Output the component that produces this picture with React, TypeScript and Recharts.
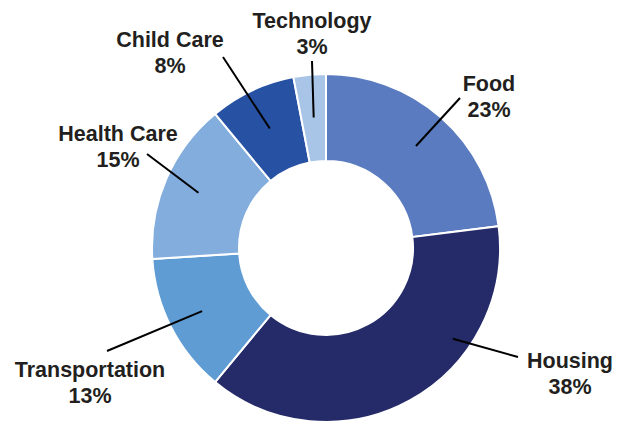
import { PieChart, Pie, Cell } from 'recharts'

const categories = ['Food', 'Housing', 'Transportation', 'Health Care', 'Child Care', 'Technology']
const shares = [23, 38, 13, 15, 8, 3]
const colors = ['#5A7BBF', '#252B69', '#5F9CD4', '#82ADDD', '#2752A4', '#A8C4E6']

// label placement, relative to the pie centre (line end + text baseline)
const labelLayout = [
  { startR: 136, turn: 0, end: [134, -150], text: [163, -157] },
  { startR: 156, turn: 25.6, end: [192, 109], text: [244, 120] },
  { startR: 139, turn: 0, end: [-219, 103], text: [-236, 129] },
  { startR: 139, turn: 0, end: [-179, -94], text: [-208, -107] },
  { startR: 132, turn: 0, end: [-103, -191], text: [-156, -201] },
  { startR: 131, turn: 0, end: [-14, -187], text: [-14, -220] },
]

const data = categories.map((name, i) => ({ name, value: shares[i] }))

const RAD = Math.PI / 180

function renderLabel(props: any) {
  const { cx, cy, midAngle, index } = props
  const l = labelLayout[index]
  const a = (midAngle + l.turn) * RAD
  const x1 = cx + l.startR * Math.cos(-a)
  const y1 = cy + l.startR * Math.sin(-a)
  const tx = cx + l.text[0]
  const ty = cy + l.text[1]
  return (
    <g key={`lbl-${index}`}>
      <line x1={x1} y1={y1} x2={cx + l.end[0]} y2={cy + l.end[1]} stroke="#000" strokeWidth={2} />
      <text
        x={tx}
        y={ty}
        textAnchor="middle"
        fill="#231F20"
        style={{ fontFamily: 'Liberation Sans, Arial, sans-serif', fontSize: 21.5, fontWeight: 700 }}
      >
        <tspan x={tx} dy={0}>{categories[index]}</tspan>
        <tspan x={tx} dy={25.5}>{shares[index]}%</tspan>
      </text>
    </g>
  )
}

export default function App() {
  return (
    <div style={{ position: 'absolute', left: 0, top: 0, width: 624, height: 422, background: '#fff' }}>
      <PieChart width={624} height={422} margin={{ top: 0, right: 0, bottom: 0, left: 0 }}>
        <Pie
          data={data}
          dataKey="value"
          nameKey="name"
          cx={326}
          cy={248}
          innerRadius={87}
          outerRadius={174}
          startAngle={90}
          endAngle={-270}
          stroke="#fff"
          strokeWidth={2}
          label={renderLabel}
          labelLine={false}
          isAnimationActive={false}
        >
          {data.map((d, i) => (
            <Cell key={d.name} fill={colors[i]} />
          ))}
        </Pie>
      </PieChart>
    </div>
  )
}
